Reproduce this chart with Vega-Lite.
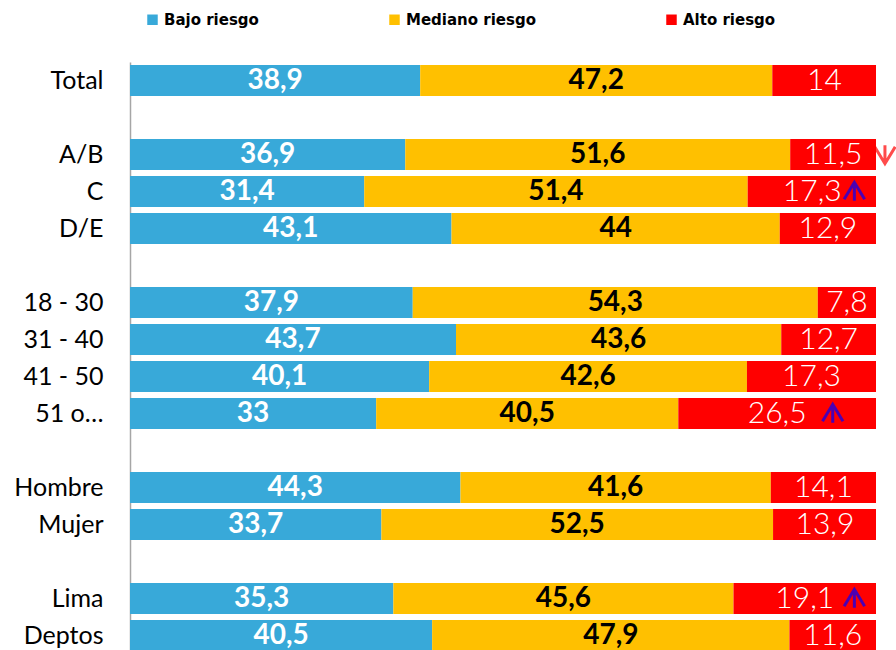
{
  "$schema": "https://vega.github.io/schema/vega-lite/v6.json",
  "autosize": "none",
  "padding": {"left": 130, "top": 62, "right": 20, "bottom": 0},
  "width": 746,
  "height": 592,
  "config": {
    "font": "Lato",
    "view": {"stroke": null},
    "locale": {"number": {"decimal": ",", "thousands": ".", "grouping": [3], "currency": ["", ""]}},
    "legend": {
      "orient": "none",
      "legendX": 15,
      "legendY": -50,
      "direction": "horizontal",
      "symbolType": "square",
      "symbolSize": 110,
      "symbolStrokeWidth": 0,
      "labelFont": "DejaVu Sans",
      "labelFontWeight": "bold",
      "labelFontSize": 15,
      "labelColor": "#000000",
      "labelOffset": 4,
      "columnPadding": 128
    }
  },
  "datasets": {
    "bars": [
      {"cat": "Total", "riesgo": "Bajo riesgo", "k": 1, "value": 38.9},
      {"cat": "Total", "riesgo": "Mediano riesgo", "k": 2, "value": 47.2},
      {"cat": "Total", "riesgo": "Alto riesgo", "k": 3, "value": 14},
      {"cat": "A/B", "riesgo": "Bajo riesgo", "k": 1, "value": 36.9},
      {"cat": "A/B", "riesgo": "Mediano riesgo", "k": 2, "value": 51.6},
      {"cat": "A/B", "riesgo": "Alto riesgo", "k": 3, "value": 11.5},
      {"cat": "C", "riesgo": "Bajo riesgo", "k": 1, "value": 31.4},
      {"cat": "C", "riesgo": "Mediano riesgo", "k": 2, "value": 51.4},
      {"cat": "C", "riesgo": "Alto riesgo", "k": 3, "value": 17.3},
      {"cat": "D/E", "riesgo": "Bajo riesgo", "k": 1, "value": 43.1},
      {"cat": "D/E", "riesgo": "Mediano riesgo", "k": 2, "value": 44},
      {"cat": "D/E", "riesgo": "Alto riesgo", "k": 3, "value": 12.9},
      {"cat": "18 - 30", "riesgo": "Bajo riesgo", "k": 1, "value": 37.9},
      {"cat": "18 - 30", "riesgo": "Mediano riesgo", "k": 2, "value": 54.3},
      {"cat": "18 - 30", "riesgo": "Alto riesgo", "k": 3, "value": 7.8},
      {"cat": "31 - 40", "riesgo": "Bajo riesgo", "k": 1, "value": 43.7},
      {"cat": "31 - 40", "riesgo": "Mediano riesgo", "k": 2, "value": 43.6},
      {"cat": "31 - 40", "riesgo": "Alto riesgo", "k": 3, "value": 12.7},
      {"cat": "41 - 50", "riesgo": "Bajo riesgo", "k": 1, "value": 40.1},
      {"cat": "41 - 50", "riesgo": "Mediano riesgo", "k": 2, "value": 42.6},
      {"cat": "41 - 50", "riesgo": "Alto riesgo", "k": 3, "value": 17.3},
      {"cat": "51 o…", "riesgo": "Bajo riesgo", "k": 1, "value": 33},
      {"cat": "51 o…", "riesgo": "Mediano riesgo", "k": 2, "value": 40.5},
      {"cat": "51 o…", "riesgo": "Alto riesgo", "k": 3, "value": 26.5},
      {"cat": "Hombre", "riesgo": "Bajo riesgo", "k": 1, "value": 44.3},
      {"cat": "Hombre", "riesgo": "Mediano riesgo", "k": 2, "value": 41.6},
      {"cat": "Hombre", "riesgo": "Alto riesgo", "k": 3, "value": 14.1},
      {"cat": "Mujer", "riesgo": "Bajo riesgo", "k": 1, "value": 33.7},
      {"cat": "Mujer", "riesgo": "Mediano riesgo", "k": 2, "value": 52.5},
      {"cat": "Mujer", "riesgo": "Alto riesgo", "k": 3, "value": 13.9},
      {"cat": "Lima", "riesgo": "Bajo riesgo", "k": 1, "value": 35.3},
      {"cat": "Lima", "riesgo": "Mediano riesgo", "k": 2, "value": 45.6},
      {"cat": "Lima", "riesgo": "Alto riesgo", "k": 3, "value": 19.1},
      {"cat": "Deptos", "riesgo": "Bajo riesgo", "k": 1, "value": 40.5},
      {"cat": "Deptos", "riesgo": "Mediano riesgo", "k": 2, "value": 47.9},
      {"cat": "Deptos", "riesgo": "Alto riesgo", "k": 3, "value": 11.6}
    ],
    "arrows": [
      {"cat": "A/B", "pos": 101.2, "dir": "down"},
      {"cat": "C", "pos": 97.1, "dir": "up"},
      {"cat": "51 o…", "pos": 94.2, "dir": "up"},
      {"cat": "Lima", "pos": 97.1, "dir": "up"}
    ]
  },
  "encoding": {
    "y": {
      "field": "cat",
      "type": "nominal",
      "title": null,
      "scale": {
        "domain": ["Total", "g1", "A/B", "C", "D/E", "g2", "18 - 30", "31 - 40", "41 - 50", "51 o…", "g3", "Hombre", "Mujer", "g4", "Lima", "Deptos"],
        "paddingInner": 0.162,
        "paddingOuter": 0.081
      },
      "axis": {
        "ticks": false,
        "grid": false,
        "domain": true,
        "domainColor": "#A6A6A6",
        "domainWidth": 1.5,
        "labelFont": "Lato",
        "labelFontSize": 25,
        "labelColor": "#000000",
        "labelPadding": 27,
        "labelExpr": "indexof(['g1','g2','g3','g4'], datum.label) >= 0 ? '' : (datum.label == 'Lima' ? 'Lima\u00a0' : datum.label)"
      }
    }
  },
  "layer": [
    {
      "data": {"name": "bars"},
      "transform": [
        {"stack": "value", "groupby": ["cat"], "sort": [{"field": "k", "order": "ascending"}], "as": ["v0", "v1"]}
      ],
      "mark": {"type": "bar", "clip": true},
      "encoding": {
        "x": {"field": "v0", "type": "quantitative", "scale": {"domain": [0, 100], "nice": false}, "axis": null},
        "x2": {"field": "v1"},
        "color": {
          "field": "riesgo",
          "type": "nominal",
          "title": null,
          "scale": {"domain": ["Bajo riesgo", "Mediano riesgo", "Alto riesgo"], "range": ["#38A9D9", "#FFC000", "#FF0000"]},
          "sort": ["Bajo riesgo", "Mediano riesgo", "Alto riesgo"]
        }
      }
    },
    {
      "data": {"name": "bars"},
      "mark": {"type": "text", "font": "Lato", "fontSize": 28, "fontWeight": "bold", "baseline": "middle", "align": "center"},
      "encoding": {
        "x": {"field": "value", "type": "quantitative", "stack": "zero", "bandPosition": 0.5},
        "detail": {"field": "riesgo"},
        "order": {"field": "k", "type": "quantitative"},
        "color": {"condition": {"test": "datum.riesgo == 'Mediano riesgo'", "value": "#000000"}, "value": "#FFFFFF"},
        "text": {"condition": {"test": "datum.riesgo == 'Alto riesgo'", "value": ""}, "field": "value", "type": "quantitative", "format": ".1~f"}
      }
    },
    {
      "data": {"name": "bars"},
      "mark": {"type": "text", "font": "Lato", "fontSize": 30, "fontWeight": 300, "baseline": "middle", "align": "center", "color": "#FFFFFF"},
      "encoding": {
        "x": {"field": "value", "type": "quantitative", "stack": "zero", "bandPosition": 0.5},
        "detail": {"field": "riesgo"},
        "order": {"field": "k", "type": "quantitative"},
        "text": {"condition": {"test": "datum.riesgo != 'Alto riesgo'", "value": ""}, "field": "value", "type": "quantitative", "format": ".1~f"}
      }
    },
    {
      "data": {"name": "arrows"},
      "transform": [{"filter": "datum.dir == 'up'"}],
      "mark": {"type": "point", "shape": "M0,-0.9L0,0.9M-1,0.75L0,-0.9L1,0.75", "filled": false, "stroke": "#0000FF", "strokeWidth": 3, "size": 420, "clip": false},
      "encoding": {
        "x": {"field": "pos", "type": "quantitative"}
      }
    },
    {
      "data": {"name": "arrows"},
      "transform": [{"filter": "datum.dir == 'down'"}],
      "mark": {"type": "point", "shape": "M0,-0.9L0,0.9M-1,-0.75L0,0.9L1,-0.75", "filled": false, "stroke": "#FF0000", "strokeWidth": 3, "size": 420, "clip": false},
      "encoding": {
        "x": {"field": "pos", "type": "quantitative"}
      }
    }
  ]
}
